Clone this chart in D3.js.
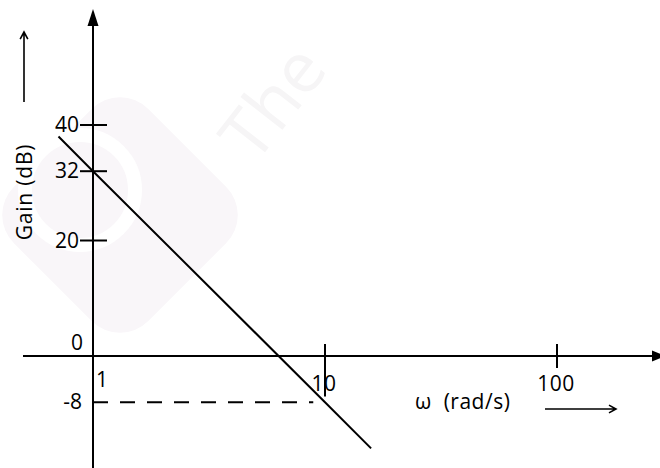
<!DOCTYPE html>
<html>
<head>
<meta charset="utf-8">
<script src="https://cdn.jsdelivr.net/npm/d3@7"></script>
<style>
    html, body { margin: 0; padding: 0; background: #fff; }
    svg { display: block; }
    text { font-family: "Open Sans", sans-serif; fill: #000; }
</style>
</head>
<body>
<div id="bode"></div>
<script>
// gain axis ticks (dB) and frequency ticks (rad/s)
const gainTicks = [40, 32, 20];
const freqTicks = [10, 100];
const zeroLabel = "0";
const originFreqLabel = "1";
const markGain = -8;

// asymptote: [omega, gain dB]
const asymptote = [[0.71, 38], [1, 32], [10, -8], [15.8, -16]];
// dashed guide at -8 dB
const guide = [[1, -8], [8.9, -8]];

const W = 660, H = 468;
const LABEL_SIZE = "21px";

const svg = d3.select("#bode").append("svg")
    .attr("width", W)
    .attr("height", H);

// faint watermark
const wm = svg.append("g").attr("class", "watermark");
wm.append("rect")
    .attr("x", -95).attr("y", -95)
    .attr("width", 190).attr("height", 190)
    .attr("rx", 40)
    .attr("transform", "translate(120,215) rotate(45)")
    .attr("fill", "#f9f6f9");
wm.append("circle")
    .attr("cx", 80).attr("cy", 190).attr("r", 55)
    .attr("fill", "none").attr("stroke", "#fff").attr("stroke-width", 14);
wm.append("text")
    .attr("transform", "translate(255,165) rotate(-52)")
    .style("font-size", "70px")
    .style("fill", "#f6f5f6")
    .text("The");

const x = d3.scaleLog().domain([1, 100]).range([93, 557]);
const y = d3.scaleLinear().domain([0, 40]).range([356, 125]);

const x0 = x(1), y0 = y(0);

// y axis with arrow
svg.append("line")
    .attr("x1", x0).attr("x2", x0)
    .attr("y1", H).attr("y2", 20)
    .attr("stroke", "#000").attr("stroke-width", 2);
svg.append("path")
    .attr("d", `M${x0},9 L${x0 - 5.5},26 L${x0 + 5.5},26 Z`)
    .attr("fill", "#000");

// x axis with arrow
svg.append("line")
    .attr("x1", 23).attr("x2", 656)
    .attr("y1", y0).attr("y2", y0)
    .attr("stroke", "#000").attr("stroke-width", 2);
svg.append("path")
    .attr("d", `M666,${y0} L652,${y0 - 5.5} L652,${y0 + 5.5} Z`)
    .attr("fill", "#000");

// gain ticks
const gt = svg.selectAll(".gtick").data(gainTicks).enter()
    .append("g").attr("class", "gtick");
gt.append("line")
    .attr("x1", x0 - 13).attr("x2", x0 + 14)
    .attr("y1", d => y(d)).attr("y2", d => y(d))
    .attr("stroke", "#000").attr("stroke-width", 2);
gt.append("text")
    .attr("x", x0 - 14)
    .attr("y", d => y(d) + 7)
    .attr("text-anchor", "end")
    .style("font-size", LABEL_SIZE)
    .text(d => d);

svg.append("text")
    .attr("x", x0 - 10).attr("y", y0 - 6)
    .attr("text-anchor", "end")
    .style("font-size", LABEL_SIZE)
    .text(zeroLabel);

svg.append("text")
    .attr("x", x0 - 11).attr("y", y(markGain) + 7)
    .attr("text-anchor", "end")
    .style("font-size", LABEL_SIZE)
    .text(markGain);

// frequency ticks
const ft = svg.selectAll(".ftick").data(freqTicks).enter()
    .append("g").attr("class", "ftick");
ft.append("line")
    .attr("x1", d => x(d)).attr("x2", d => x(d))
    .attr("y1", y0 - 12)
    .attr("y2", d => d === 10 ? y(-7) : y0 + 12)
    .attr("stroke", "#000").attr("stroke-width", 2);
ft.append("text")
    .attr("x", d => x(d) - 1)
    .attr("y", y0 + 35)
    .attr("text-anchor", "middle")
    .style("font-size", LABEL_SIZE)
    .style("letter-spacing", "0.5px")
    .text(d => d);

svg.append("text")
    .attr("x", x0 + 3).attr("y", y0 + 31)
    .style("font-size", LABEL_SIZE)
    .text(originFreqLabel);

// dashed guide
const lineGen = d3.line().x(d => x(d[0])).y(d => y(d[1]));
svg.append("path")
    .datum(guide)
    .attr("d", lineGen)
    .attr("fill", "none")
    .attr("stroke", "#000")
    .attr("stroke-width", 2)
    .attr("stroke-dasharray", "15,12");

// asymptote
svg.append("path")
    .datum(asymptote)
    .attr("d", lineGen)
    .attr("fill", "none")
    .attr("stroke", "#000")
    .attr("stroke-width", 2);

// axis titles
svg.append("text")
    .attr("transform", "translate(32,192) rotate(-90)")
    .attr("text-anchor", "middle")
    .style("font-size", "21px")
    .style("letter-spacing", "0.8px")
    .text("Gain (dB)");

svg.append("text")
    .attr("x", 415).attr("y", 409)
    .attr("xml:space", "preserve")
    .style("white-space", "pre")
    .style("font-size", "21px")
    .style("letter-spacing", "0.5px")
    .text("ω  (rad/s)");

// direction arrows
function arrow(x1, y1, x2, y2) {
    const a = Math.atan2(y2 - y1, x2 - x1);
    const h = 8, s = 0.5;
    svg.append("path")
        .attr("d", `M${x1},${y1} L${x2},${y2} M${x2 - h * Math.cos(a - s)},${y2 - h * Math.sin(a - s)} L${x2},${y2} L${x2 - h * Math.cos(a + s)},${y2 - h * Math.sin(a + s)}`)
        .attr("fill", "none")
        .attr("stroke", "#000")
        .attr("stroke-width", 1.6);
}
arrow(24, 102, 24, 32);
arrow(545, 409, 616, 409);
</script>
</body>
</html>
